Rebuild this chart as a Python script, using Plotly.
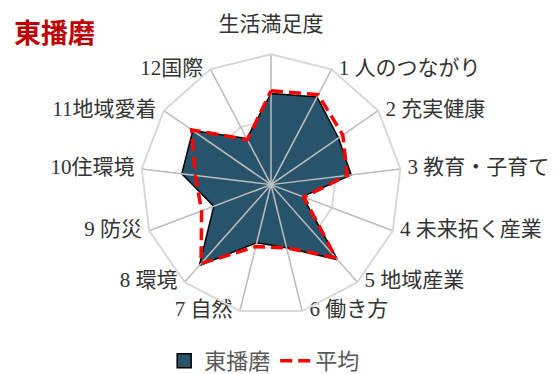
import plotly.graph_objects as go

# radar categories (clockwise from top)
categories = ["生活満足度", "1 人のつながり", "2 充実健康", "3 教育・子育て",
              "4 未来拓く産業", "5 地域産業", "6 働き方", "7 自然", "8 環境",
              "9 防災", "10住環境", "11地域愛着", "12国際"]

# values, as a share of the outer ring
higashi_harima = [0.70, 0.76, 0.63, 0.62, 0.26, 0.77, 0.50, 0.46, 0.83, 0.47, 0.69, 0.73, 0.40]
average = [0.72, 0.78, 0.67, 0.59, 0.27, 0.75, 0.50, 0.49, 0.81, 0.57, 0.585, 0.74, 0.39]

series_names = ["東播磨", "平均"]
title_text = "東播磨"
r_max = 1.0

label_font = "Liberation Serif, Noto Sans CJK JP"
fill_color = "#28546B"

fig = go.Figure()

# filled series (closed polygon)
fig.add_trace(go.Scatterpolar(
    r=higashi_harima + higashi_harima[:1],
    theta=categories + categories[:1],
    name=series_names[0],
    mode="lines",
    fill="toself",
    fillcolor=fill_color,
    line=dict(color="black", width=1.5),
    showlegend=False,
))

# spokes drawn on top of the fill, like in the original
spoke_r = []
spoke_theta = []
for c in categories:
    spoke_r += [0, r_max, None]
    spoke_theta += [c, c, None]
fig.add_trace(go.Scatterpolar(
    r=spoke_r,
    theta=spoke_theta,
    mode="lines",
    line=dict(color="#BFBFBF", width=1.5),
    showlegend=False,
    hoverinfo="skip",
))

# legend entry for the filled series: a square like the original
fig.add_trace(go.Scatterpolar(
    r=[None],
    theta=[categories[0]],
    name=series_names[0],
    mode="markers",
    marker=dict(symbol="square", size=14, color=fill_color,
                line=dict(color="black", width=1.5)),
))

# average as red dashes
fig.add_trace(go.Scatterpolar(
    r=average + average[:1],
    theta=categories + categories[:1],
    name=series_names[1],
    mode="lines",
    line=dict(color="#FF0000", width=3.5, dash="12px,6px"),
))

# category labels next to the outer ring vertices
n = len(categories)
half = (n + 1) // 2
label_pos = ["top center"] + ["middle right"] * (half - 1) + ["middle left"] * (n - half)
label_gap = [28] + [10] * (n - 1)  # invisible marker size sets the text offset
fig.add_trace(go.Scatterpolar(
    r=[r_max] * n,
    theta=categories,
    text=categories,
    mode="markers+text",
    textposition=label_pos,
    textfont=dict(family=label_font, size=21, color="#333333"),
    marker=dict(size=label_gap, opacity=0),
    cliponaxis=False,
    showlegend=False,
    hoverinfo="skip",
))

fig.update_layout(
    width=558,
    height=374,
    margin=dict(l=0, r=0, t=0, b=0),
    paper_bgcolor="white",
    plot_bgcolor="white",
    polar=dict(
        domain=dict(x=[0.2348, 0.7079], y=[0.1684, 0.8743]),
        bgcolor="white",
        gridshape="linear",
        radialaxis=dict(
            range=[0, r_max],
            tickvals=[r_max / 2],
            showticklabels=False,
            ticks="",
            showline=False,
            gridcolor="#D9D9D9",
            gridwidth=1.5,
        ),
        angularaxis=dict(
            rotation=90,
            direction="clockwise",
            showline=True,
            linecolor="#D9D9D9",
            linewidth=2,
            gridcolor="#BFBFBF",
            ticks="",
            showticklabels=False,
        ),
    ),
    legend=dict(
        orientation="h",
        x=0.46,
        xanchor="center",
        y=0.043,
        yanchor="middle",
        bgcolor="rgba(0,0,0,0)",
        font=dict(family=label_font, size=22, color="#595959"),
        itemwidth=30,
    ),
    annotations=[dict(
        text="<b>" + title_text + "</b>",
        xref="paper", yref="paper",
        x=0.008, y=0.937,
        xanchor="left", yanchor="middle",
        showarrow=False,
        font=dict(family="Noto Sans CJK JP", size=27, color="#C00000"),
    )],
)

fig.write_html("out.html")
